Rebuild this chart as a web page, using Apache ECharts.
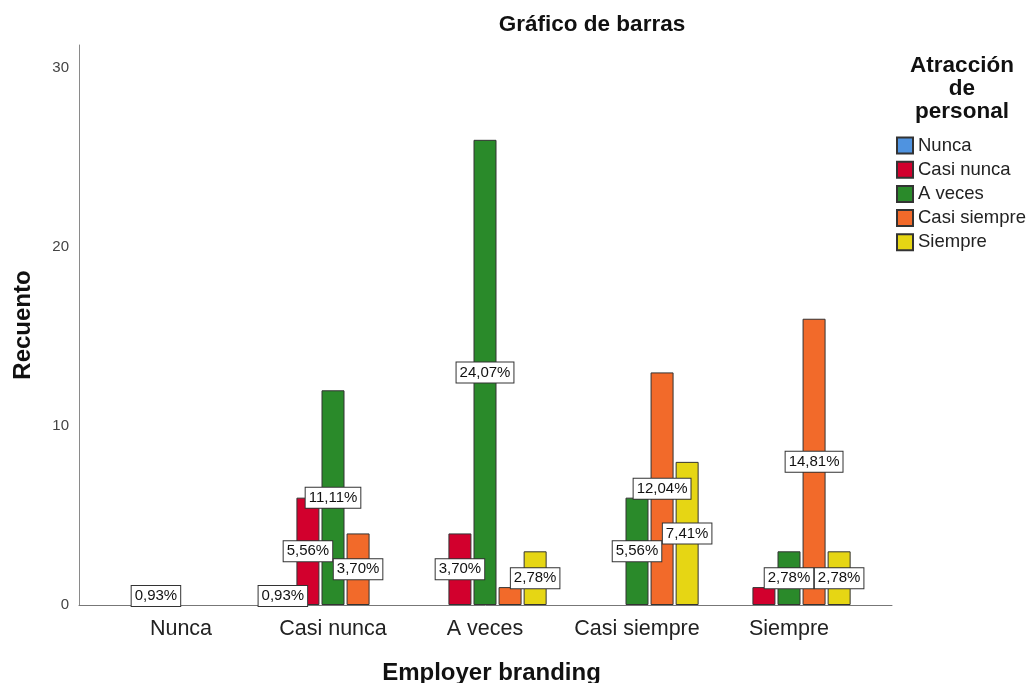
<!DOCTYPE html>
<html>
<head>
<meta charset="utf-8">
<title>Gráfico de barras</title>
<script src="https://cdn.jsdelivr.net/npm/echarts@6/dist/echarts.min.js"></script>
<style>
  html, body { margin: 0; padding: 0; background: #fff; }
  #chart { width: 1029px; height: 683px; }
</style>
</head>
<body>
<div id="chart"></div>
<script>
// categories of Employer branding (x axis)
var categories = ['Nunca', 'Casi nunca', 'A veces', 'Casi siempre', 'Siempre'];
// series = Atracción de personal
var seriesNames = ['Nunca', 'Casi nunca', 'A veces', 'Casi siempre', 'Siempre'];
var colors = ['#4f93e0', '#d2002d', '#2a8a2a', '#f26a2a', '#e6d614'];

// counts (Recuento) per series, in category order
var nunca       = [0, 1, 0, 0, 0];
var casiNunca   = [1, 6, 4, 0, 1];
var aVeces      = [0, 12, 26, 6, 3];
var casiSiempre = [0, 4, 1, 13, 16];
var siempre     = [0, 0, 3, 8, 3];
var seriesValues = [nunca, casiNunca, aVeces, casiSiempre, siempre];

// labels that SPSS covered with a neighbour label: [category, series]
var hiddenLabels = [['A veces', 'Casi siempre'], ['Siempre', 'Casi nunca']];

var yTicks = [0, 10, 20, 30];
var yMax = 31.3;

var total = 0;
seriesValues.forEach(function (arr) {
    arr.forEach(function (v) { total += v; });
});

function pct(v) {
    return (v / total * 100).toFixed(2).replace('.', ',') + '%';
}

function isHidden(cat, ser) {
    for (var i = 0; i < hiddenLabels.length; i++) {
        if (hiddenLabels[i][0] === cat && hiddenLabels[i][1] === ser) return true;
    }
    return false;
}

var series = seriesNames.map(function (name, s) {
    return {
        name: name,
        type: 'bar',
        xAxisIndex: 0,
        yAxisIndex: 0,
        barWidth: 23,
        barGap: '9%',
        itemStyle: { color: colors[s], borderColor: '#333', borderWidth: 1 },
        data: seriesValues[s].map(function (v, c) {
            if (v === 0) return '-';
            return { value: v, label: { show: !isHidden(categories[c], name) } };
        }),
        label: {
            position: 'inside',
            formatter: function (p) { return pct(p.value); },
            color: '#111',
            fontFamily: 'Liberation Sans',
            fontSize: 15,
            backgroundColor: '#fff',
            borderColor: '#333',
            borderWidth: 1,
            padding: [3, 3, 2, 3]
        },
        emphasis: { disabled: true },
        z: 2
    };
});

var chart = echarts.init(document.getElementById('chart'));
chart.setOption({
    animation: false,
    textStyle: { fontFamily: 'Liberation Sans' },
    title: [{
        text: 'Gráfico de barras',
        left: 587,
        top: 8,
        textAlign: 'center',
        textStyle: { fontSize: 22.5, fontWeight: 'bold', color: '#111', fontFamily: 'Liberation Sans' }
    }, {
        text: 'Atracción\nde\npersonal',
        left: 957,
        top: 49,
        textAlign: 'center',
        textStyle: { fontSize: 22.5, fontWeight: 'bold', color: '#111', lineHeight: 23, fontFamily: 'Liberation Sans' }
    }],
    legend: {
        orient: 'vertical',
        left: 891,
        top: 131,
        icon: 'rect',
        itemWidth: 16,
        itemHeight: 16,
        itemGap: 5.2,
        selectedMode: false,
        data: seriesNames,
        textStyle: { fontSize: 18.5, color: '#222', fontFamily: 'Liberation Sans' }
    },
    // grid 0 holds the bars, grid 1 carries the visible axis frame
    grid: [
        { left: 105, right: 164, top: 45, bottom: 78, outerBoundsMode: 'none' },
        { left: 79, right: 137, top: 45, bottom: 78, outerBoundsMode: 'none' }
    ],
    xAxis: [{
        type: 'category',
        gridIndex: 0,
        data: categories,
        axisLine: { show: false },
        axisTick: { show: false },
        axisLabel: { interval: 0, fontSize: 21.5, color: '#222', margin: 13 }
    }, {
        type: 'value',
        gridIndex: 1,
        min: 0,
        max: 1,
        name: 'Employer branding',
        nameLocation: 'middle',
        nameGap: 56,
        nameTextStyle: { fontSize: 24, fontWeight: 'bold', color: '#111', padding: [0, 0, 0, 12] },
        axisLine: { show: true, lineStyle: { color: '#777', width: 1 } },
        axisTick: { show: false },
        axisLabel: { show: false },
        splitLine: { show: false }
    }],
    yAxis: [{
        type: 'value',
        gridIndex: 0,
        min: 0,
        max: yMax,
        show: false
    }, {
        type: 'value',
        gridIndex: 1,
        min: 0,
        max: yMax,
        interval: 10,
        name: 'Recuento',
        nameLocation: 'middle',
        nameRotate: 90,
        nameGap: 44,
        nameTextStyle: { fontSize: 24, fontWeight: 'bold', color: '#111' },
        axisLine: { show: true, lineStyle: { color: '#8a8a8a', width: 1 } },
        axisTick: { show: false },
        splitLine: { show: false },
        axisLabel: {
            fontSize: 15,
            color: '#444',
            margin: 10,
            showMaxLabel: false,
            formatter: function (v) { return yTicks.indexOf(v) >= 0 ? String(v) : ''; }
        }
    }],
    series: series
});
</script>
</body>
</html>
